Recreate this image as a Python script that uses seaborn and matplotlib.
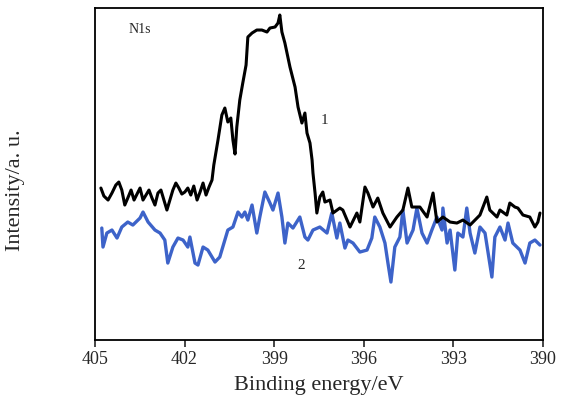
import numpy as np
import pandas as pd
import matplotlib
matplotlib.use("Agg")
import matplotlib.pyplot as plt
import seaborn as sns

# DATA

energy_1 = [404.80, 404.70, 404.56, 404.43, 404.30, 404.20, 404.10, 404.00, 403.90, 403.79,
            403.69, 403.59, 403.49, 403.39, 403.29, 403.19, 403.09, 402.99, 402.89, 402.79,
            402.69, 402.59, 402.49, 402.39, 402.29, 402.19, 402.09, 401.99, 401.89, 401.79,
            401.69, 401.58, 401.48, 401.38, 401.28, 401.18, 401.08, 401.02, 400.88, 400.75,
            400.65, 400.55, 400.45, 400.38, 400.31, 400.25, 400.15, 400.05, 399.94, 399.88,
            399.74, 399.58, 399.41, 399.24, 399.14, 398.97, 398.87, 398.81, 398.74, 398.64,
            398.47, 398.30, 398.20, 398.07, 397.97, 397.90, 397.80, 397.73, 397.70, 397.63,
            397.57, 397.47, 397.37, 397.30, 397.13, 397.03, 396.80, 396.70, 396.46, 396.23,
            396.13, 395.96, 395.86, 395.69, 395.53, 395.36, 395.12, 394.89, 394.69, 394.52,
            394.39, 394.12, 393.88, 393.68, 393.55, 393.35, 393.11, 392.88, 392.68, 392.44,
            392.11, 391.88, 391.78, 391.54, 391.44, 391.21, 391.11, 390.94, 390.84, 390.67,
            390.44, 390.27, 390.17, 390.10]
intensity_1 = [152, 144, 140, 147, 155, 158, 150, 135, 142, 150,
               140, 146, 152, 140, 145, 150, 142, 135, 147, 150,
               140, 130, 140, 150, 157, 152, 146, 148, 152, 145,
               154, 140, 148, 157, 145, 153, 160, 175, 200, 225,
               232, 218, 222, 200, 186, 213, 240, 257, 275, 303,
               307, 310, 310, 308, 312, 313, 317, 325, 308, 297,
               273, 253, 233, 217, 227, 207, 197, 180, 167, 147,
               127, 143, 148, 138, 140, 127, 132, 130, 113, 127,
               118, 153, 147, 133, 142, 127, 113, 123, 130, 152,
               133, 133, 123, 147, 118, 123, 118, 117, 120, 115,
               125, 143, 130, 123, 130, 125, 137, 133, 132, 125,
               123, 113, 118, 127]

energy_2 = [404.77, 404.73, 404.60, 404.43, 404.26, 404.10, 403.90, 403.73, 403.49, 403.39,
            403.22, 402.99, 402.82, 402.66, 402.56, 402.39, 402.22, 402.05, 401.89, 401.82,
            401.65, 401.55, 401.38, 401.22, 400.98, 400.82, 400.65, 400.55, 400.38, 400.21,
            400.08, 399.98, 399.88, 399.74, 399.58, 399.48, 399.31, 399.14, 399.04, 398.87,
            398.74, 398.64, 398.54, 398.37, 398.14, 397.97, 397.87, 397.70, 397.47, 397.23,
            397.07, 396.90, 396.80, 396.63, 396.53, 396.36, 396.13, 395.89, 395.73, 395.63,
            395.46, 395.29, 395.19, 395.09, 394.96, 394.79, 394.69, 394.55, 394.35, 394.22,
            394.05, 393.88, 393.72, 393.55, 393.38, 393.35, 393.21, 393.11, 392.95, 392.85,
            392.68, 392.55, 392.44, 392.28, 392.11, 391.94, 391.71, 391.61, 391.44, 391.27,
            391.17, 391.01, 390.77, 390.60, 390.44, 390.27, 390.10]
intensity_2 = [112, 93, 107, 110, 102, 113, 118, 115, 122, 128,
               118, 110, 107, 100, 77, 93, 102, 100, 93, 103,
               77, 75, 93, 90, 78, 83, 100, 110, 113, 128,
               123, 128, 120, 135, 107, 123, 148, 137, 130, 147,
               123, 97, 117, 112, 123, 103, 100, 110, 113, 107,
               127, 102, 117, 92, 100, 97, 88, 90, 102, 123,
               113, 97, 77, 58, 93, 103, 130, 97, 110, 132,
               107, 97, 110, 123, 110, 132, 97, 110, 70, 107,
               103, 132, 107, 87, 113, 107, 63, 103, 113, 100,
               117, 97, 90, 77, 97, 100, 95]

x_ticks = [405, 402, 399, 396, 393, 390]

df1 = pd.DataFrame({"energy": energy_1, "intensity": intensity_1})
df2 = pd.DataFrame({"energy": energy_2, "intensity": intensity_2})

sns.set_style("white")
plt.rcParams['font.family'] = ['Liberation Serif', 'DejaVu Serif']

fig = plt.figure(figsize=(5.65, 4.01), dpi=100)
ax = fig.add_axes([0.168, 0.152, 0.793, 0.828])

sns.lineplot(data=df2, x="energy", y="intensity", ax=ax, color="#3d63c9",
             lw=2.4, estimator=None, sort=False)
sns.lineplot(data=df1, x="energy", y="intensity", ax=ax, color="black",
             lw=2.2, estimator=None, sort=False)

ax.set_xlim(405, 390)
ax.set_ylim(0, 332)
ax.set_xticks(x_ticks)
ax.set_xticklabels([str(t) for t in x_ticks])
ax.set_yticks([])
ax.tick_params(axis='x', direction='out', length=5, width=1.2, labelsize=13,
               bottom=True, pad=3)
for s in ax.spines.values():
    s.set_color('black')
    s.set_linewidth(1.3)

ax.set_xlabel("Binding energy/eV", fontsize=16, labelpad=6)
ax.set_ylabel("Intensity/a. u.", fontsize=16)
ax.yaxis.set_label_coords(-0.155, 0.45)

ax.text(403.5, 311, "N1s", fontsize=10, ha='center', va='center')
ax.text(397.3, 220, "1", fontsize=11, ha='center', va='center')
ax.text(398.1, 75, "2", fontsize=11, ha='center', va='center')

plt.savefig("out.png", dpi=100)
